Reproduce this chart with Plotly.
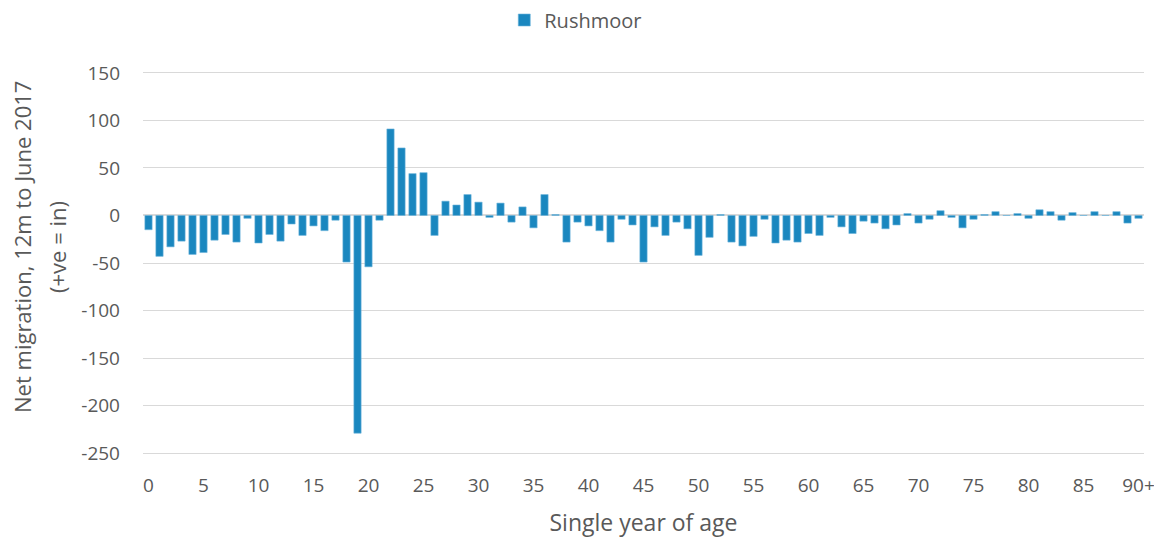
import plotly.graph_objects as go

ages = list(range(91))
net_migration = [
    -15, -43, -33, -27, -41, -39, -26, -20, -28, -3,
    -29, -20, -27, -9, -21, -11, -16, -5, -49, -229,
    -54, -5, 91, 71, 44, 45, -21, 15, 11, 22,
    14, -2, 13, -7, 9, -13, 22, 1, -28, -7,
    -11, -16, -28, -4, -10, -49, -12, -21, -7, -14,
    -42, -23, 1, -28, -32, -22, -4, -29, -26, -28,
    -19, -21, -2, -12, -19, -6, -8, -14, -10, 2,
    -8, -4, 5, -2, -13, -4, 1, 4, 0, 2,
    -3, 6, 4, -5, 3, 0, 4, 0, 4, -8,
    -3,
]
tick_ages = list(range(0, 91, 5))
tick_labels = [str(a) for a in range(0, 90, 5)] + ["90+"]
y_ticks = list(range(-250, 151, 50))
y_tick_labels = [str(v) for v in y_ticks]  # plain hyphen like the original
y_title_lines = ["Net migration, 12m to June 2017", "(+ve = in)"]

font_family = "'Open Sans', Calibri, sans-serif"
text_grey = "#595959"
grid_grey = "#d9d9d9"

# the page body has an 8px margin, so the figure is 8px smaller and margins are shifted
fig_w, fig_h = 1154, 530

fig = go.Figure()
fig.add_trace(
    go.Bar(
        x=ages,
        y=net_migration,
        name="Rushmoor",
        width=0.66,
        marker=dict(color="#1a87bf", line=dict(color="#6fb6dc", width=0.6)),
    )
)

# y title drawn as two rotated lines so the spacing matches the original
for i, line in enumerate(y_title_lines):
    fig.add_annotation(
        text=line,
        xref="paper",
        yref="paper",
        x=-0.1209 + i * 0.035,
        y=0.5415,
        xanchor="center",
        yanchor="middle",
        textangle=-90,
        showarrow=False,
        font=dict(size=22, color=text_grey),
    )

fig.update_layout(
    width=fig_w,
    height=fig_h,
    margin=dict(l=135, r=18, t=62, b=82, autoexpand=False),
    plot_bgcolor="white",
    paper_bgcolor="white",
    font=dict(family=font_family, size=19, color=text_grey),
    showlegend=True,
    legend=dict(
        orientation="h",
        xref="container",
        x=0.492,
        xanchor="center",
        yref="container",
        y=1 - 12 / fig_h,
        yanchor="middle",
        font=dict(size=20, color=text_grey),
        itemwidth=30,
    ),
    xaxis=dict(
        range=[-0.5, 90.5],
        tickmode="array",
        tickvals=tick_ages,
        ticktext=tick_labels,
        showgrid=False,
        zeroline=False,
        showline=False,
        ticks="",
        automargin=False,
        ticklabeloverflow="allow",
        ticklabelstandoff=16,
        tickfont=dict(size=19),
        title=dict(text="Single year of age", font=dict(size=23, color=text_grey), standoff=18),
    ),
    yaxis=dict(
        range=[-253, 153],
        tickmode="array",
        tickvals=y_ticks,
        ticktext=y_tick_labels,
        showgrid=True,
        gridcolor=grid_grey,
        gridwidth=1.3,
        zeroline=True,
        zerolinecolor=grid_grey,
        zerolinewidth=1.5,
        ticks="",
        automargin=False,
        ticklabelstandoff=22,
        tickfont=dict(size=19),
    ),
)

fig.write_html("out.html")
